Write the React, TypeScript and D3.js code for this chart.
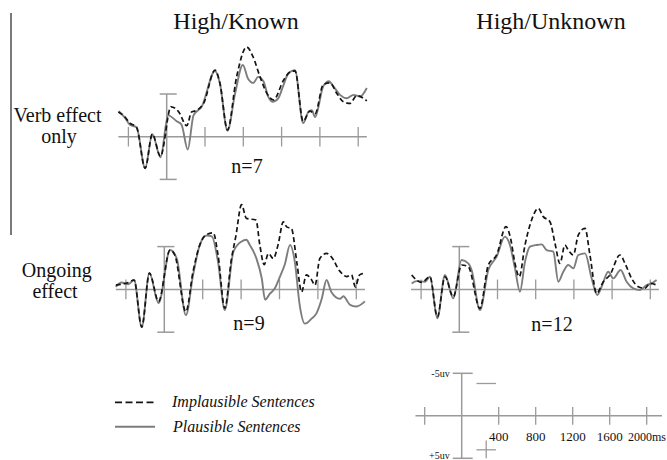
import React from 'react';
import * as d3 from 'd3';

// time in ms, amplitude in uV (negative plotted up)
const tickTimes = [-400, 400, 800, 1200, 1600, 2000];
const scaleLabels = ['400', '800', '1200', '1600', '2000ms'];
const scaleLabelTimes = [400, 800, 1200, 1600, 2000];

// High/Known, verb effect only (n=7)
const p1PlausibleT = [-500, -435, -385, -315, -225, -150, -65, 15, 105, 155, 220, 280, 365, 505, 555, 635, 715, 795, 850, 905, 955, 1010, 1060, 1105, 1165, 1215, 1270, 1340, 1425, 1480, 1515, 1550, 1635, 1695, 1740, 1810, 1880, 1950, 2020, 2090];
const p1PlausibleV = [-3.0, -2.2, -1.4, -1.1, 3.7, -0.3, 2.4, -2.5, -1.8, -1.4, 1.5, -2.5, -3.5, -7.7, -6.3, -0.7, -5.1, -8.4, -6.8, -6.3, -7.0, -6.5, -4.7, -4.1, -4.5, -5.9, -7.4, -7.8, -1.6, -2.9, -3.1, -2.3, -5.9, -6.5, -5.9, -4.9, -4.5, -4.9, -4.7, -5.7];
const p1ImplausibleT = [-505, -435, -385, -315, -225, -150, -65, 45, 120, 210, 260, 315, 385, 505, 555, 635, 730, 835, 900, 975, 1045, 1115, 1220, 1290, 1340, 1425, 1495, 1550, 1635, 1705, 1775, 1845, 1915, 1985, 2090];
const p1ImplausibleV = [-2.9, -2.3, -1.6, -1.1, 3.7, -0.3, 2.3, -3.5, -3.0, -1.3, -2.9, -3.1, -3.9, -7.8, -6.3, -0.8, -7.0, -10.5, -9.4, -7.0, -5.1, -4.3, -6.6, -7.6, -7.7, -1.8, -3.0, -2.7, -6.1, -6.3, -5.1, -4.1, -3.9, -4.8, -4.2];

// High/Known, ongoing effect (n=9)
const p2PlausibleT = [-505, -445, -375, -315, -235, -155, -60, 60, 130, 225, 300, 370, 440, 495, 560, 630, 720, 805, 855, 890, 960, 1015, 1050, 1100, 1150, 1205, 1255, 1310, 1360, 1410, 1465, 1535, 1585, 1640, 1690, 1740, 1830, 1865, 1935, 2000, 2090];
const p2PlausibleV = [-0.3, -0.8, -0.6, -1.1, 4.4, -1.9, 1.6, -4.6, -3.6, 3.0, -1.7, -5.2, -6.3, -6.2, -3.2, 2.4, -4.4, -5.6, -5.8, -5.2, -3.6, -1.3, 1.2, 0.5, -0.1, -1.5, -2.9, -5.2, -3.2, 1.8, 4.0, 3.4, 2.8, 1.1, -1.1, 0.3, 1.1, 0.8, 1.8, 2.0, 1.4];
const p2ImplausibleT = [-505, -375, -315, -235, -155, -60, 60, 110, 225, 300, 370, 425, 510, 560, 630, 700, 745, 805, 855, 955, 995, 1040, 1085, 1135, 1185, 1240, 1275, 1325, 1380, 1430, 1480, 1535, 1570, 1620, 1690, 1740, 1830, 1900, 1950, 1990, 2035, 2090];
const p2ImplausibleV = [-0.5, -0.8, -1.1, 4.4, -1.9, 1.4, -4.6, -4.0, 2.6, -2.1, -5.2, -6.3, -6.6, -4.0, 2.2, -3.6, -6.2, -9.9, -8.3, -8.1, -5.2, -2.9, -4.2, -3.6, -5.2, -7.9, -7.3, -7.1, -3.2, 0.3, -1.7, -1.1, -0.5, -3.6, -4.2, -3.8, -2.1, -1.5, -1.7, -0.3, -1.7, -1.9];

// High/Unknown, ongoing effect (n=12)
const p3PlausibleT = [-499, -447, -359, -307, -230, -150, -63, 24, 94, 129, 216, 304, 391, 478, 530, 583, 635, 688, 740, 810, 862, 914, 984, 1037, 1089, 1141, 1194, 1246, 1316, 1386, 1445, 1490, 1560, 1612, 1689, 1752, 1822, 1892, 1961, 2014, 2066];
const p3PlausibleV = [-0.70, -0.97, -0.90, -1.48, 3.39, -1.68, 1.05, -3.43, -3.04, -2.26, 2.42, -2.26, -3.82, -6.16, -5.19, -2.46, 0.27, -3.24, -4.99, -5.19, -5.26, -4.60, -4.41, -0.90, -2.07, -2.85, -2.46, -4.02, -4.21, -1.29, 0.66, -0.31, -2.07, -1.29, -2.26, -0.90, -0.12, 0.08, -0.51, -0.70, -1.09];
const p3ImplausibleT = [-499, -447, -394, -307, -230, -150, -63, 24, 94, 216, 304, 391, 489, 537, 583, 628, 688, 757, 827, 879, 949, 1002, 1054, 1106, 1141, 1194, 1246, 1316, 1368, 1438, 1508, 1577, 1682, 1735, 1804, 1874, 1944, 1996, 2066];
const p3ImplausibleV = [-1.68, -1.09, -0.82, -1.48, 3.20, -1.48, 0.86, -2.85, -2.65, 2.22, -2.85, -4.02, -7.33, -5.96, -3.04, -1.48, -5.19, -8.11, -9.47, -8.50, -7.91, -5.38, -3.04, -5.19, -4.60, -4.02, -6.35, -7.13, -4.02, 0.47, -0.90, -1.68, -4.02, -3.04, -1.29, -0.31, -0.12, -0.70, -0.51];

const FONT = '"Liberation Serif", "Times New Roman", serif';
const AXIS = '#9a9a9a';
const SOLID = '#7d7d7d';
const DASHED = '#141414';

const panels = [
  { x0: 166.7, step: 38.3, base: 136.7, half: 42.7, label: 'n=7', lx: 247, ly: 173, pt: p1PlausibleT, pv: p1PlausibleV, it: p1ImplausibleT, iv: p1ImplausibleV },
  { x0: 164.3, step: 38.4, base: 289.4, half: 42.8, label: 'n=9', lx: 249, ly: 330, pt: p2PlausibleT, pv: p2PlausibleV, it: p2ImplausibleT, iv: p2ImplausibleV },
  { x0: 459.3, step: 38.2, base: 289.4, half: 42.8, label: 'n=12', lx: 552, ly: 331, pt: p3PlausibleT, pv: p3PlausibleV, it: p3ImplausibleT, iv: p3ImplausibleV },
];

const Panel: React.FC<{ p: typeof panels[number] }> = ({ p }) => {
  const x = d3.scaleLinear().domain([0, 400]).range([p.x0, p.x0 + p.step]);
  const y = d3.scaleLinear().domain([-5, 5]).range([p.base - p.half, p.base + p.half]);
  const line = d3.line<[number, number]>()
    .x(d => x(d[0]))
    .y(d => y(d[1]))
    .curve(d3.curveMonotoneX);
  const plaus = p.pt.map((t, i) => [t, p.pv[i]] as [number, number]);
  const impl = p.it.map((t, i) => [t, p.iv[i]] as [number, number]);
  return (
    <g>
      <line x1={x(-505)} x2={x(2090)} y1={y(0)} y2={y(0)} stroke={AXIS} strokeWidth={1.5} />
      {tickTimes.map(t => (
        <line key={t} x1={x(t)} x2={x(t)} y1={y(-1.15)} y2={y(1.15)} stroke={AXIS} strokeWidth={1.3} />
      ))}
      <line x1={x(0)} x2={x(0)} y1={y(-5)} y2={y(5)} stroke={AXIS} strokeWidth={1.5} />
      <line x1={x(0) - 7} x2={x(0) + 10} y1={y(-5)} y2={y(-5)} stroke={AXIS} strokeWidth={1.5} />
      <line x1={x(0) - 7} x2={x(0) + 10} y1={y(5)} y2={y(5)} stroke={AXIS} strokeWidth={1.5} />
      <path d={line(plaus) || ''} fill="none" stroke={SOLID} strokeWidth={1.9} />
      <path d={line(impl) || ''} fill="none" stroke={DASHED} strokeWidth={1.7} strokeDasharray="5,3" />
      <text x={p.lx} y={p.ly} textAnchor="middle" fontSize={20} fill="#111">{p.label}</text>
    </g>
  );
};

const ScaleKey: React.FC = () => {
  const x = d3.scaleLinear().domain([0, 400]).range([461.7, 498.7]);
  const y = d3.scaleLinear().domain([-5, 5]).range([373.3, 458.3]);
  return (
    <g>
      <line x1={x(-500)} x2={662} y1={y(0)} y2={y(0)} stroke={AXIS} strokeWidth={1.5} />
      {tickTimes.map(t => (
        <line key={t} x1={x(t)} x2={x(t)} y1={y(-1.05)} y2={y(1.05)} stroke={AXIS} strokeWidth={1.3} />
      ))}
      <line x1={x(0)} x2={x(0)} y1={y(-5)} y2={y(5)} stroke={AXIS} strokeWidth={1.5} />
      <line x1={x(0) - 9} x2={x(0) + 11} y1={y(-5)} y2={y(-5)} stroke={AXIS} strokeWidth={1.5} />
      <line x1={x(0) - 9} x2={x(0) + 11} y1={y(5)} y2={y(5)} stroke={AXIS} strokeWidth={1.5} />
      <line x1={x(160)} x2={x(370)} y1={y(-3.8)} y2={y(-3.8)} stroke={AXIS} strokeWidth={1.3} />
      <line x1={x(160)} x2={x(370)} y1={y(4)} y2={y(4)} stroke={AXIS} strokeWidth={1.3} />
      <line x1={x(265)} x2={x(265)} y1={y(2.9)} y2={y(5)} stroke={AXIS} strokeWidth={1.3} />
      <text x={x(0) - 12} y={y(-5) + 4} textAnchor="end" fontSize={10} fill="#111">-5uv</text>
      <text x={x(0) - 12} y={y(5) + 1} textAnchor="end" fontSize={10} fill="#111">+5uv</text>
      {scaleLabels.map((s, i) => (
        <text key={s} x={i === 4 ? 628 : x(scaleLabelTimes[i])} y={441}
          textAnchor={i === 4 ? 'start' : 'middle'} fontSize={i === 4 ? 12 : 13} fill="#111">{s}</text>
      ))}
    </g>
  );
};

export default function App() {
  return (
    <svg width={667} height={460} style={{ position: 'absolute', left: 0, top: 0, background: '#fff' }} fontFamily={FONT}>
      <rect width={667} height={460} fill="#fff" />
      <line x1={11} x2={11} y1={13} y2={235} stroke="#222" strokeWidth={1.2} />
      <text x={236} y={29} textAnchor="middle" fontSize={24} fill="#111">High/Known</text>
      <text x={551} y={29} textAnchor="middle" fontSize={24} fill="#111">High/Unknown</text>
      <text x={57.5} y={122} textAnchor="middle" fontSize={20} fill="#111">Verb effect</text>
      <text x={59} y={143} textAnchor="middle" fontSize={20} fill="#111">only</text>
      <text x={56.7} y={277} textAnchor="middle" fontSize={20} fill="#111">Ongoing</text>
      <text x={55} y={298} textAnchor="middle" fontSize={20} fill="#111">effect</text>
      {panels.map((p, i) => <Panel key={i} p={p} />)}
      <line x1={115} x2={155} y1={402.3} y2={402.3} stroke={DASHED} strokeWidth={1.8} strokeDasharray="7,3.5" />
      <text x={172} y={407} fontSize={16} fontStyle="italic" fill="#111">Implausible Sentences</text>
      <line x1={115} x2={155} y1={426.7} y2={426.7} stroke={SOLID} strokeWidth={2} />
      <text x={173} y={432} fontSize={16} fontStyle="italic" fill="#111">Plausible Sentences</text>
      <ScaleKey />
    </svg>
  );
}
